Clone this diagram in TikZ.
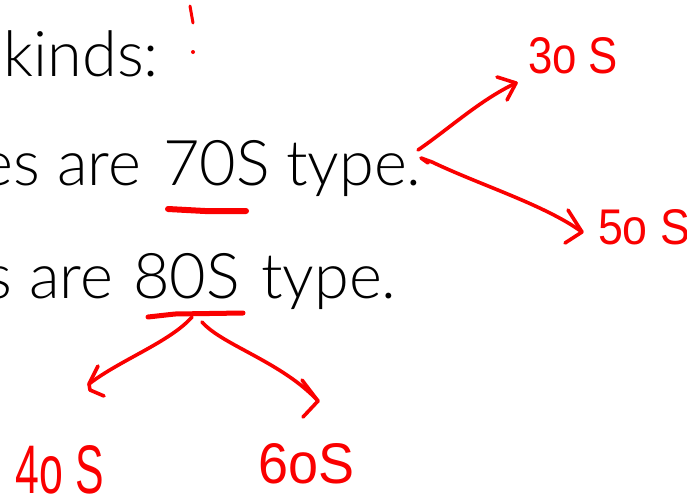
\documentclass[tikz,border=0pt]{standalone}
\usepackage{fontspec}
\setmainfont{Lato Light}
\newfontfamily\handfont{Liberation Sans}
\usepackage{graphicx}
\definecolor{inkred}{RGB}{250,0,0}
\begin{document}
\begin{tikzpicture}[x=1pt,y=-1pt,
  txt/.style={inner sep=0pt,outer sep=0pt,font=\fontsize{63}{70}\selectfont,text=black},
  ink/.style={draw=inkred,line width=3.6pt,line cap=round,line join=round},
  inkthick/.style={ink,line width=6pt},
  hand/.style={inner sep=0pt,outer sep=0pt,text=inkred,font=\handfont}]
\useasboundingbox (0,0) rectangle (687,501);
\clip (0,0) rectangle (687,501);
\fill[white] (0,0) rectangle (687,501);

% black text
\node[txt,anchor=base east] (kinds) at (159,76) {kinds:};
\node[txt,anchor=base east] (are1) at (141,185) {es are};
\node[txt,anchor=base west] (s70) at (163,185) {70S};
\node[txt,anchor=base west] (type1) at (286,185) {type.};
\node[txt,anchor=base east] (are2) at (113,298) {s are};
\node[txt,anchor=base west] (s80) at (133,298) {80S};
\node[txt,anchor=base west] (type2) at (261,298) {type.};

% red handwritten labels
\node[hand,anchor=south west] (l30) at (528,74) {\resizebox{90pt}{36pt}{\fontsize{49}{49}\selectfont 3o S}};
\node[hand,anchor=south west] (l50) at (598,245) {\resizebox{92pt}{35pt}{\fontsize{49}{49}\selectfont 5o S}};
\node[hand,anchor=south west] (l40) at (16,494) {\resizebox{88pt}{48pt}{\fontsize{49}{49}\selectfont 4o S}};
\node[hand,anchor=south west] (l60) at (258,484) {\resizebox{96pt}{40pt}{\fontsize{49}{49}\selectfont 6oS}};

% red tick and dot
\draw[ink,line width=3pt] (190,6) -- (193,23);
\fill[inkred] (193,52) circle (2pt);

% underlines
\coordinate (u70a) at (168,209);
\coordinate (u70b) at (246,211);
\draw[inkthick] (u70a) -- (205,211) -- (u70b);
\coordinate (u80a) at (148,317);
\coordinate (u80b) at (243,313);
\draw[inkthick,line width=5pt] (u80a) -- (175,314) -- (u80b);

% arrows 70S -> 30S, 50S
\coordinate (a1s) at (418,150);
\coordinate (a1t) at (516,83);
\draw[ink] (a1s) .. controls (450,128) and (480,100) .. (a1t);
\draw[ink] (497,77) -- (a1t) -- (507,100);

\coordinate (a2s) at (421,158);
\coordinate (a2t) at (582,232);
\draw[ink] (428,163) -- (a2s) -- (432,162) .. controls (480,185) and (545,205) .. (a2t);
\draw[ink] (568,210) -- (a2t) -- (565,243);

% arrows 80S -> 40S, 60S
\coordinate (b1s) at (192,317);
\coordinate (b1t) at (89,384);
\draw[ink] (b1s) .. controls (170,342) and (120,360) .. (b1t);
\draw[ink] (98,366) -- (b1t) -- (90,390) -- (104,396);

\coordinate (b2s) at (202,322);
\coordinate (b2t) at (318,401);
\draw[ink] (b2s) .. controls (222,345) and (282,362) .. (b2t);
\draw[ink] (302,380) -- (b2t) -- (303,417);
\end{tikzpicture}
\end{document}
